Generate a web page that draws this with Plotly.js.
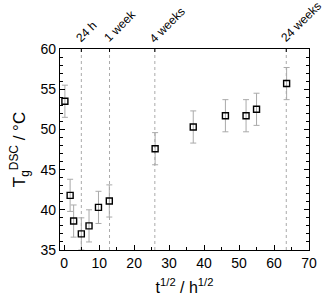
<!DOCTYPE html>
<html><head><meta charset="utf-8">
<script src="https://cdn.plot.ly/plotly-3.0.1.min.js"></script>
<style>html,body{margin:0;padding:0;background:#fff}</style>
</head><body><div id="chart" style="width:322px;height:296px"></div>
<script>
const xVals = [0.2, 1.7, 2.7, 4.9, 7.1, 9.8, 12.9, 26.0, 36.9, 46.1, 52.0, 55.0, 63.6];
const yVals = [53.5, 41.8, 38.6, 37.0, 38.0, 40.3, 41.1, 47.6, 50.3, 51.7, 51.7, 52.5, 55.7];
const yErr = [2.0, 2.0, 2.0, 2.0, 2.0, 2.0, 2.0, 2.0, 2.0, 2.0, 2.0, 2.0, 2.0];
const markerPos = [4.9, 12.96, 25.92, 63.5];
const markerLabels = ['24 h', '1 week', '4 weeks', '24 weeks'];

const font = {family: 'Liberation Sans, Arial, sans-serif', size: 14, color: '#000'};
const traces = [{
  x: xVals, y: yVals, type: 'scatter', mode: 'markers',
  marker: {symbol: 'square-open', size: 6, color: '#000', line: {width: 1.4, color: '#000'}},
  error_y: {type: 'data', array: yErr, visible: true, color: '#aaa', thickness: 1, width: 3},
  showlegend: false
}];
const shapes = markerPos.map(v => ({
  type: 'line', xref: 'x', yref: 'paper', x0: v, x1: v, y0: 0, y1: 1,
  line: {color: '#aaa', width: 1, dash: 'dot'}, layer: 'below'
})).concat(markerPos.map(v => ({
  type: 'line', xref: 'x', yref: 'paper', x0: v, x1: v, y0: 1, y1: 0.985,
  line: {color: '#000', width: 1}
})));
const annotations = markerPos.map((v, i) => ({
  x: v, y: 1, xref: 'x', yref: 'paper', text: markerLabels[i], textangle: -45,
  showarrow: false, xanchor: 'left', yanchor: 'bottom', xshift: -11, yshift: 1,
  font: {size: 12, color: '#000'}
}));
const layout = {
  width: 322, height: 296,
  margin: {l: 60, r: 13, t: 49, b: 46},
  paper_bgcolor: '#fff', plot_bgcolor: '#fff',
  font: font,
  showlegend: false,
  shapes: shapes,
  annotations: annotations,
  xaxis: {
    range: [-1.2, 70], tickvals: [0, 10, 20, 30, 40, 50, 60, 70],
    ticks: 'inside', ticklen: 5, tickcolor: '#000', showgrid: false, zeroline: false,
    showline: true, linecolor: '#000', linewidth: 1.2, mirror: true,
    minor: {tickvals: [5, 15, 25, 35, 45, 55, 65], ticks: 'inside', ticklen: 3, tickcolor: '#000'},
    title: {text: 't<sup>1/2</sup> / h<sup>1/2</sup>', font: {size: 16}, standoff: 14},
    tickfont: {size: 14}, automargin: false
  },
  yaxis: {
    range: [35, 60], tickvals: [35, 40, 45, 50, 55, 60],
    ticks: 'inside', ticklen: 5, tickcolor: '#000', showgrid: false, zeroline: false,
    showline: true, linecolor: '#000', linewidth: 1.2, mirror: 'ticks',
    minor: {dtick: 1, ticks: 'inside', ticklen: 3, tickcolor: '#000'},
    title: {text: 'T<sub>g</sub><sup>DSC</sup> / °C', font: {size: 17}, standoff: 10},
    tickfont: {size: 14}, automargin: false
  }
};
Plotly.newPlot('chart', traces, layout, {displayModeBar: false, staticPlot: true});
</script></body></html>
